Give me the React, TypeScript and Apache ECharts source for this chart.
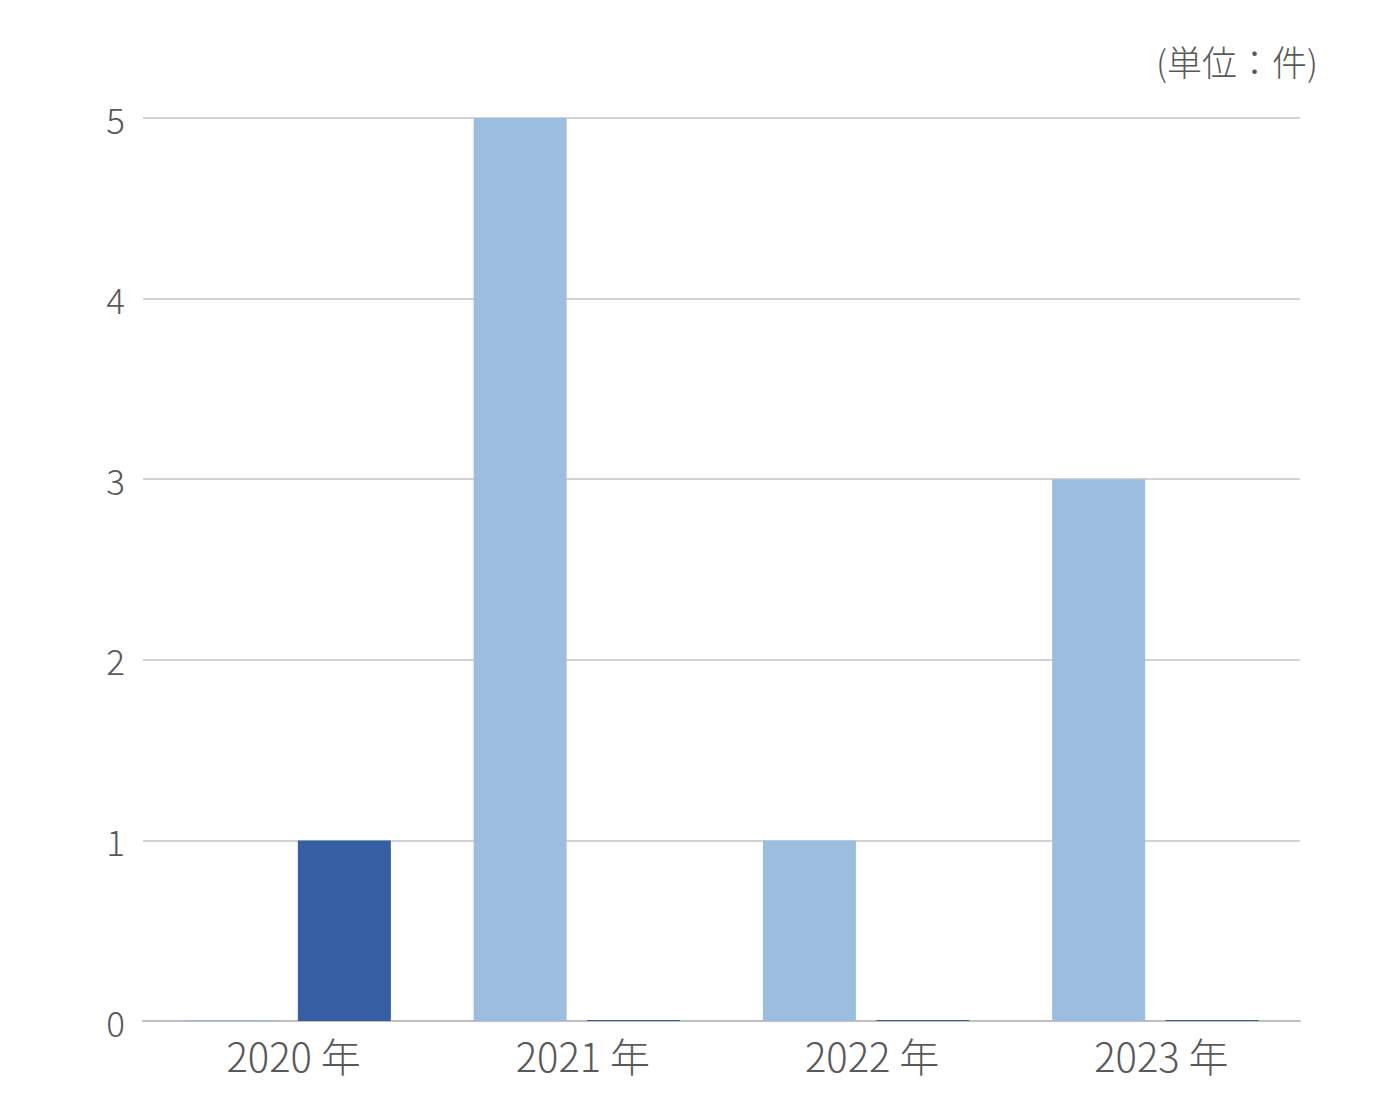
import React, { useEffect, useRef } from "react";
import * as echarts from "echarts";

const categories = ["2020 年", "2021 年", "2022 年", "2023 年"];
const lightSeries = [0, 5, 1, 3];
const darkSeries = [1, 0, 0, 0];
const yTicks = [0, 1, 2, 3, 4, 5];
const unitLabel = "(単位：件)";

const FONT = "'Noto Sans CJK JP', 'Noto Sans', sans-serif";

export default function App() {
  const ref = useRef<HTMLDivElement>(null);
  useEffect(() => {
    if (!ref.current) return;
    const chart = echarts.init(ref.current, null, { renderer: "svg" });
    chart.setOption({
      animation: false,
      backgroundColor: "#ffffff",
      grid: { left: 135, right: 69, top: 110, bottom: 88, containLabel: false },
      graphic: [
        {
          type: "text",
          right: 51,
          top: 35,
          style: { text: unitLabel, font: `300 35px ${FONT}`, fill: "#595959" },
        },
      ],
      xAxis: {
        type: "category",
        data: categories,
        axisTick: { show: false },
        axisLine: { lineStyle: { color: "#bfbfbf", width: 2 } },
        axisLabel: {
          color: "#595959",
          fontSize: 40,
          fontFamily: FONT,
          fontWeight: 300,
          margin: 14,
          padding: [0, 0, 0, 12],
        },
      },
      yAxis: {
        type: "value",
        min: yTicks[0],
        max: yTicks[yTicks.length - 1],
        interval: 1,
        axisLine: { show: false },
        axisTick: { show: false },
        splitLine: { lineStyle: { color: "#c4c4c4", width: 1.5 } },
        axisLabel: { color: "#595959", fontSize: 35, fontFamily: FONT, fontWeight: 300, margin: 18 },
      },
      series: [
        {
          type: "bar",
          data: lightSeries,
          itemStyle: { color: "#9bbee0" },
          barWidth: 93,
          barGap: "22%",
          barMinHeight: 1,
        },
        {
          type: "bar",
          data: darkSeries,
          itemStyle: { color: "#365fa3" },
          barWidth: 93,
          barMinHeight: 1,
        },
      ],
    });
    return () => chart.dispose();
  }, []);
  return <div ref={ref} style={{ width: 1361, height: 1101 }} />;
}
